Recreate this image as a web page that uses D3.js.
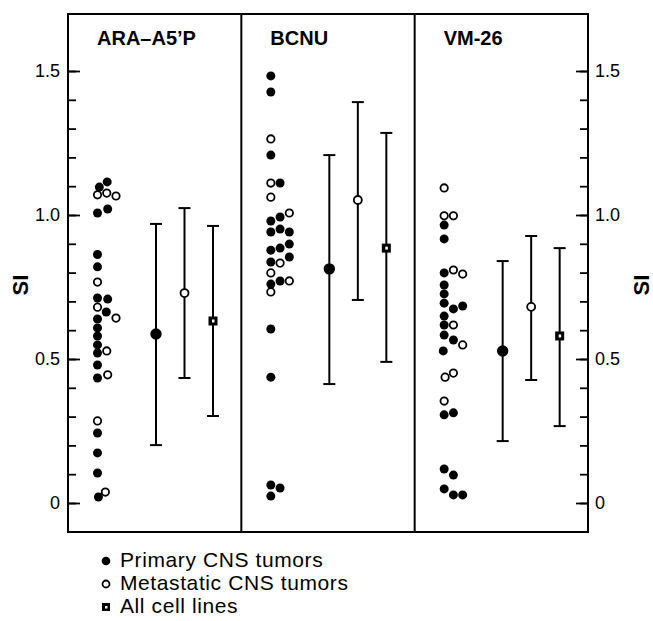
<!DOCTYPE html>
<html><head><meta charset="utf-8">
<script src="https://cdn.jsdelivr.net/npm/d3@7"></script>
<style>body{margin:0;background:#fff} svg{display:block;font-family:"Liberation Sans",Arial,Helvetica,sans-serif}</style>
</head><body><svg id="c" width="653" height="621"></svg>
<script>
// ---------- DATA ----------
const drugs = ["ARA–A5’P", "BCNU", "VM-26"];
const groups = ["Primary CNS tumors", "Metastatic CNS tumors", "All cell lines"];

// individual SI values: [SI, jitter column]
const primaryARA = [[1.115,1.05],[1.097,0.2],[1.021,1.1],[1.007,0],[0.863,0],[0.82,0],[0.712,0],[0.708,1.1],
  [0.663,0.95],[0.639,0],[0.608,0],[0.58,0],[0.549,0],[0.521,0],[0.479,0],[0.434,0],[0.243,0],[0.174,0],[0.104,0],[0.021,0.1]];
const metaARA = [[1.07,0],[1.076,1],[1.066,2],[0.767,0],[0.68,0],[0.642,2],[0.528,1],[0.445,1.1],[0.285,0],[0.038,0.85]];

const primaryBCNU = [[1.483,0],[1.427,0],[1.208,0],[1.111,1],[0.993,1],[0.979,0],[0.951,1],[0.941,0],[0.941,2],
  [0.899,2],[0.885,1],[0.878,0],[0.854,2],[0.837,0],[0.771,1],[0.76,0],[0.604,0],[0.437,0],[0.0625,0],[0.052,1],[0.024,0]];
const metaBCNU = [[1.264,0],[1.111,0],[1.062,0],[1.007,2],[0.833,1],[0.799,0],[0.771,2],[0.733,0]];

const primaryVM = [[0.965,0],[0.917,0],[0.799,0],[0.757,0],[0.726,0],[0.694,0],[0.684,2],[0.674,1],[0.649,0],[0.618,0],
  [0.583,0],[0.566,1],[0.528,-0.1],[0.313,1],[0.306,0],[0.118,0],[0.097,1],[0.049,0],[0.028,1],[0.028,2]];
const metaVM = [[1.094,0],[0.997,0],[0.997,1],[0.809,1],[0.795,2],[0.618,1],[0.549,2],[0.451,1],[0.437,0.1],[0.354,0]];

// group means and ranges per drug
const primaryMean = [0.587, 0.813, 0.528];
const primaryLow  = [0.201, 0.413, 0.215];
const primaryHigh = [0.969, 1.208, 0.840];
const metaMean = [0.729, 1.052, 0.681];
const metaLow  = [0.434, 0.705, 0.427];
const metaHigh = [1.024, 1.392, 0.927];
const allMean = [0.632, 0.885, 0.580];
const allLow  = [0.302, 0.490, 0.267];
const allHigh = [0.962, 1.285, 0.885];

const yMajorTicks = [0, 0.5, 1.0, 1.5];
const yMajorLabels = ["0", "0.5", "1.0", "1.5"];
const yMinorTicks = [0,0.1,0.2,0.3,0.4,0.5,0.6,0.7,0.8,0.9,1.0,1.1,1.2,1.3,1.4,1.5];
const yTitle = "SI";

// ---------- BUILD ----------
const points = [
  {drug: drugs[0], type: "p", vals: primaryARA}, {drug: drugs[0], type: "m", vals: metaARA},
  {drug: drugs[1], type: "p", vals: primaryBCNU}, {drug: drugs[1], type: "m", vals: metaBCNU},
  {drug: drugs[2], type: "p", vals: primaryVM}, {drug: drugs[2], type: "m", vals: metaVM}
].flatMap(s => s.vals.map(v => ({drug: s.drug, type: s.type, v: v[0], col: v[1]})));

const bars = [];
drugs.forEach((d, i) => {
  bars.push({drug: d, g: groups[0], mean: primaryMean[i], lo: primaryLow[i], hi: primaryHigh[i]});
  bars.push({drug: d, g: groups[1], mean: metaMean[i], lo: metaLow[i], hi: metaHigh[i]});
  bars.push({drug: d, g: groups[2], mean: allMean[i], lo: allLow[i], hi: allHigh[i]});
});

const svg = d3.select("#c");
const L = 68, R = 588, T = 14, B = 532;
const y = d3.scaleLinear().domain([0, 1.5]).range([503, 71]);
const xPanel = d3.scaleBand().domain(drugs).range([L, R]);
const xCol = d3.scaleLinear().domain([0, 2]).range([29.5, 48]);
const xBar = d3.scalePoint().domain(groups).range([88, 145]);

// frame + dividers
svg.append("rect").attr("x", L).attr("y", T).attr("width", R - L).attr("height", B - T)
  .attr("fill", "none").attr("stroke", "#000").attr("stroke-width", 2);
drugs.slice(1).forEach(d => {
  svg.append("line").attr("x1", xPanel(d)).attr("x2", xPanel(d)).attr("y1", T).attr("y2", B)
    .attr("stroke", "#000").attr("stroke-width", 2);
});

// axes
function styleAxis(g) { g.select(".domain").remove(); g.selectAll("line").attr("stroke", "#000").attr("stroke-width", 1.8); }
svg.append("g").attr("transform", `translate(${L},0)`)
  .call(d3.axisLeft(y).tickValues(yMinorTicks).tickSize(-8).tickFormat(""))
  .call(styleAxis);
svg.append("g").attr("transform", `translate(${L},0)`)
  .call(d3.axisLeft(y).tickValues(yMajorTicks).tickSize(-12).tickPadding(7).tickFormat((d, i) => yMajorLabels[i]))
  .call(styleAxis)
  .call(g => g.selectAll("text").attr("font-size", 18).attr("fill", "#000").attr("x", -8));
svg.append("g").attr("transform", `translate(${R},0)`)
  .call(d3.axisRight(y).tickValues(yMinorTicks).tickSize(-8).tickFormat(""))
  .call(styleAxis);
svg.append("g").attr("transform", `translate(${R},0)`)
  .call(d3.axisRight(y).tickValues(yMajorTicks).tickSize(-12).tickFormat((d, i) => yMajorLabels[i]))
  .call(styleAxis)
  .call(g => g.selectAll("text").attr("font-size", 18).attr("fill", "#000").attr("x", 7));

// axis titles
[20, 641].forEach(x => {
  svg.append("text").attr("transform", `translate(${x},285) rotate(-90)`)
    .attr("text-anchor", "middle").attr("dominant-baseline", "central")
    .attr("font-size", 22).attr("font-weight", "bold").text(yTitle);
});

// panel titles
svg.selectAll("text.title").data(drugs).join("text").attr("class", "title")
  .attr("x", d => xPanel(d) + 29).attr("y", 45)
  .attr("font-size", 20).attr("font-weight", "bold").text(d => d);

// individual points
svg.selectAll("circle.pt").data(points).join("circle").attr("class", "pt")
  .attr("cx", d => xPanel(d.drug) + xCol(d.col)).attr("cy", d => y(d.v))
  .attr("r", d => d.type === "p" ? 4.5 : 3.7)
  .attr("fill", d => d.type === "p" ? "#000" : "#fff")
  .attr("stroke", "#000").attr("stroke-width", d => d.type === "p" ? 0 : 1.8);

// error bars
const bx = d => xPanel(d.drug) + xBar(d.g);
const eb = svg.selectAll("g.eb").data(bars).join("g").attr("class", "eb");
eb.append("line").attr("x1", bx).attr("x2", bx).attr("y1", d => y(d.lo)).attr("y2", d => y(d.hi))
  .attr("stroke", "#000").attr("stroke-width", 2);
["lo", "hi"].forEach(k => {
  eb.append("line").attr("x1", d => bx(d) - 6).attr("x2", d => bx(d) + 6)
    .attr("y1", d => y(d[k])).attr("y2", d => y(d[k])).attr("stroke", "#000").attr("stroke-width", 2);
});
eb.filter(d => d.g !== groups[2]).append("circle")
  .attr("cx", bx).attr("cy", d => y(d.mean)).attr("r", d => d.g === groups[0] ? 4.8 : 4)
  .attr("fill", d => d.g === groups[0] ? "#000" : "#fff").attr("stroke", "#000").attr("stroke-width", 1.8);
const sq = eb.filter(d => d.g === groups[2]);
sq.append("rect").attr("x", d => bx(d) - 4.5).attr("y", d => y(d.mean) - 4.5).attr("width", 9).attr("height", 9).attr("fill", "#000");
sq.append("rect").attr("x", d => bx(d) - 1).attr("y", d => y(d.mean) - 1.5).attr("width", 2.5).attr("height", 3).attr("fill", "#fff");

// legend
const lg = svg.append("g");
const ly = d3.scalePoint().domain(groups).range([567, 613]);
lg.selectAll("text").data(groups).join("text")
  .attr("x", 120).attr("y", d => ly(d)).attr("font-size", 21).attr("letter-spacing", 0.6)
  .attr("fill", "#000").text(d => d);
lg.append("circle").attr("cx", 106).attr("cy", ly(groups[0]) - 6).attr("r", 4.3).attr("fill", "#000");
lg.append("circle").attr("cx", 106).attr("cy", ly(groups[1]) - 6).attr("r", 3.5).attr("fill", "#fff").attr("stroke", "#000").attr("stroke-width", 1.8);
lg.append("rect").attr("x", 102).attr("y", ly(groups[2]) - 10).attr("width", 8).attr("height", 8).attr("fill", "#000");
lg.append("rect").attr("x", 105).attr("y", ly(groups[2]) - 7).attr("width", 2.5).attr("height", 2.5).attr("fill", "#fff");
</script></body></html>
